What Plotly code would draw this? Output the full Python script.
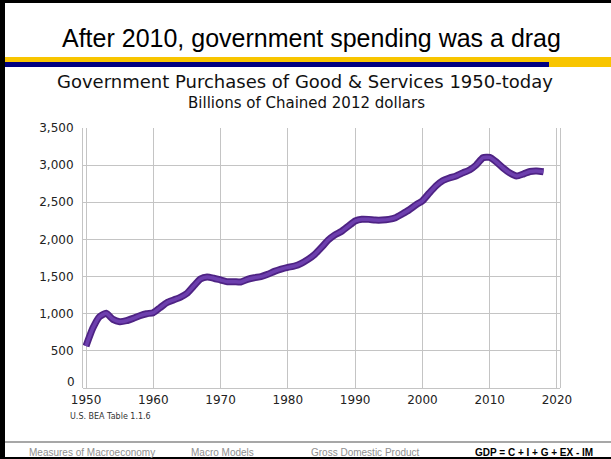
import plotly.graph_objects as go

years = list(range(1950, 2019))
spending = [565, 803, 960, 1005, 924, 893, 906, 937, 973, 1000,
            1014, 1081, 1148, 1185, 1221, 1274, 1373, 1467, 1495, 1478,
            1454, 1431, 1431, 1427, 1463, 1485, 1499, 1530, 1570, 1601,
            1624, 1642, 1678, 1731, 1799, 1893, 1992, 2062, 2110, 2180,
            2248, 2272, 2270, 2261, 2261, 2270, 2292, 2342, 2396, 2463,
            2520, 2622, 2719, 2790, 2826, 2854, 2896, 2935, 3002, 3100,
            3105, 3042, 2961, 2894, 2854, 2880, 2915, 2921, 2910]
x_ticks = [1950, 1960, 1970, 1980, 1990, 2000, 2010, 2020]
y_ticks = [0, 500, 1000, 1500, 2000, 2500, 3000, 3500]
y_tick_text = ["", "500", "1,000", "1,500", "2,000", "2,500", "3,000", "3,500"]

W, H = 611, 459
L, R, T, B = 83, 560, 128, 388

def px(x):
    return (x - L) / (R - L)

def py(y):
    return (B - y) / (B - T)

fig = go.Figure()
fig.add_trace(go.Scatter(x=years, y=spending, mode="lines",
                         line=dict(color="#4e2384", width=7, shape="spline", smoothing=0.5),
                         hoverinfo="skip", showlegend=False))
fig.add_trace(go.Scatter(x=years, y=spending, mode="lines",
                         line=dict(color="#6d3fae", width=3.5, shape="spline", smoothing=0.5),
                         showlegend=False))

shapes = [
    dict(type="rect", xref="paper", yref="paper", x0=px(0), x1=px(5), y0=py(H), y1=py(0),
         fillcolor="black", line=dict(width=0), layer="above"),
    dict(type="rect", xref="paper", yref="paper", x0=px(0), x1=px(W), y0=py(3), y1=py(0),
         fillcolor="black", line=dict(width=0), layer="above"),
    dict(type="rect", xref="paper", yref="paper", x0=px(0), x1=px(W), y0=py(H), y1=py(457),
         fillcolor="black", line=dict(width=0), layer="above"),
    dict(type="rect", xref="paper", yref="paper", x0=px(5), x1=px(W), y0=py(67), y1=py(57),
         fillcolor="#f8c500", line=dict(width=0), layer="above"),
    dict(type="rect", xref="paper", yref="paper", x0=px(5), x1=px(549), y0=py(67), y1=py(62),
         fillcolor="#000080", line=dict(width=0), layer="above"),
    dict(type="line", xref="paper", yref="paper", x0=px(5), x1=px(W), y0=py(442), y1=py(442),
         line=dict(color="#8a8a8a", width=1.5), layer="above"),
]

annotations = [
    dict(text="After 2010, government spending was a drag", x=px(311), y=py(38),
         font=dict(family="Liberation Sans, Arial", size=25, color="black")),
    dict(text="Government Purchases of Good & Services 1950-today", x=px(305), y=py(81),
         font=dict(family="DejaVu Sans", size=18, color="#111111")),
    dict(text="Billions of Chained 2012 dollars", x=px(306), y=py(103),
         font=dict(family="DejaVu Sans", size=15, color="#111111")),
    dict(text="0", x=px(77), y=py(382), xanchor="right",
         font=dict(family="DejaVu Sans", size=12, color="#222222")),
    dict(text="U.S. BEA Table 1.1.6", x=px(68), y=py(416), xanchor="left",
         font=dict(family="DejaVu Sans", size=8, color="#333333")),
    dict(text="Measures of Macroeconomy", x=px(27), y=py(452), xanchor="left",
         font=dict(family="Liberation Sans Narrow, Liberation Sans", size=10, color="#909090")),
    dict(text="Macro Models", x=px(189), y=py(452), xanchor="left",
         font=dict(family="Liberation Sans Narrow, Liberation Sans", size=10, color="#909090")),
    dict(text="Gross Domestic Product", x=px(309), y=py(452), xanchor="left",
         font=dict(family="Liberation Sans Narrow, Liberation Sans", size=10, color="#909090")),
    dict(text="<b>GDP = C + I + G + EX - IM</b>", x=px(473), y=py(452), xanchor="left",
         font=dict(family="Liberation Sans Narrow, Liberation Sans", size=10, color="black")),
]
for a in annotations:
    a.update(xref="paper", yref="paper", showarrow=False)
    a.setdefault("xanchor", "center")
    a.setdefault("yanchor", "middle")

fig.update_layout(
    width=W, height=H,
    margin=dict(l=L, r=W - R, t=T, b=H - B, pad=0),
    paper_bgcolor="white", plot_bgcolor="white",
    shapes=shapes, annotations=annotations,
    xaxis=dict(range=[1949.55, 2020.45], tickvals=x_ticks, showgrid=True,
               gridcolor="#c4c4c4", gridwidth=1, showline=False, zeroline=False,
               ticks="", ticklabelstandoff=3,
               tickfont=dict(family="DejaVu Sans", size=12, color="#222222")),
    yaxis=dict(range=[0, 3500], tickvals=y_ticks, ticktext=y_tick_text, showgrid=True,
               gridcolor="#c4c4c4", gridwidth=1, showline=True, mirror=True,
               linecolor="#c4c4c4", linewidth=1, zeroline=True, zerolinecolor="#c4c4c4",
               zerolinewidth=1, ticks="", ticklabelstandoff=6,
               tickfont=dict(family="DejaVu Sans", size=12, color="#222222")),
)

fig.write_html("out.html")
